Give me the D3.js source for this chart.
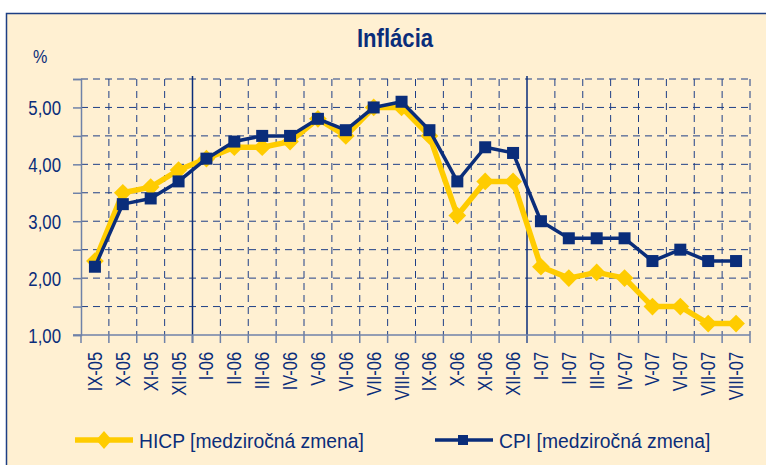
<!DOCTYPE html>
<html>
<head>
<meta charset="utf-8">
<script src="https://cdn.jsdelivr.net/npm/d3@7"></script>
<style>
  body { margin: 0; background: #fff; }
  svg text { font-family: "Liberation Sans", Arial, sans-serif; fill: #0a2d7a; }
</style>
</head>
<body>
<svg id="chart" width="766" height="465"></svg>
<script>
// months on the x axis
const months = ["IX-05", "X-05", "XI-05", "XII-05",
  "I-06", "II-06", "III-06", "IV-06", "V-06", "VI-06", "VII-06", "VIII-06",
  "IX-06", "X-06", "XI-06", "XII-06",
  "I-07", "II-07", "III-07", "IV-07", "V-07", "VI-07", "VII-07", "VIII-07"];

// HICP, year-on-year change (%)
const hicp = [2.3, 3.5, 3.6, 3.9, 4.1, 4.3, 4.3, 4.4, 4.8, 4.5, 5.0, 5.0,
  4.5, 3.1, 3.7, 3.7, 2.2, 2.0, 2.1, 2.0, 1.5, 1.5, 1.2, 1.2];

// CPI, year-on-year change (%)
const cpi = [2.2, 3.3, 3.4, 3.7, 4.1, 4.4, 4.5, 4.5, 4.8, 4.6, 5.0, 5.1,
  4.6, 3.7, 4.3, 4.2, 3.0, 2.7, 2.7, 2.7, 2.3, 2.5, 2.3, 2.3];

const yTicks = [1, 1.5, 2, 2.5, 3, 3.5, 4, 4.5, 5, 5.5];
const yLabels = [1, 2, 3, 4, 5];
const yearBreaks = ["I-06", "I-07"];   // solid lines before these months

const navy = "#0a2d7a";
const yellow = "#ffcc00";
const grid = "#1f3f86";
const axisGray = "#6f82a8";

const svg = d3.select("#chart");

// panel background + frame
svg.append("rect")
  .attr("x", 6.5).attr("y", 13.5)
  .attr("width", 790).attr("height", 480)
  .attr("fill", "#fff0d2")
  .attr("stroke", "#1d3f84").attr("stroke-width", 1.5);

const plotL = 81, plotR = 750, plotT = 79, plotB = 335;

const x = d3.scaleBand().domain(months).range([plotL, plotR]);
const y = d3.scaleLinear().domain([1, 5.5]).range([plotB, plotT]);
const cx = m => x(m) + x.bandwidth() / 2;

// horizontal dashed grid
svg.append("g").selectAll("line")
  .data(yTicks.slice(1))
  .join("line")
  .attr("x1", plotL).attr("x2", plotR)
  .attr("y1", d => y(d)).attr("y2", d => y(d))
  .attr("stroke", grid).attr("stroke-width", 1)
  .attr("stroke-dasharray", "7,5");

// vertical dashed grid on category boundaries
svg.append("g").selectAll("line")
  .data(months.slice(1).concat(["end"]))
  .join("line")
  .attr("x1", (d, i) => plotL + (i + 1) * x.step())
  .attr("x2", (d, i) => plotL + (i + 1) * x.step())
  .attr("y1", plotT).attr("y2", plotB)
  .attr("stroke", grid).attr("stroke-width", 1)
  .attr("stroke-dasharray", "7,5")
  .attr("opacity", d => yearBreaks.includes(d) ? 0 : 1);

// year separators
svg.append("g").selectAll("line")
  .data(yearBreaks)
  .join("line")
  .attr("x1", d => x(d)).attr("x2", d => x(d))
  .attr("y1", plotT - 3).attr("y2", plotB + 8)
  .attr("stroke", navy).attr("stroke-width", 1.5);

// y axis (labels drawn separately, condensed)
const yAxis = svg.append("g")
  .attr("transform", `translate(${plotL},0)`)
  .call(d3.axisLeft(y).tickValues(yTicks).tickSize(8).tickFormat(""));
yAxis.select(".domain").attr("stroke", axisGray).attr("stroke-width", 1.5);
yAxis.selectAll(".tick line").attr("stroke", axisGray).attr("stroke-width", 1.5);

svg.append("g").selectAll("text")
  .data(yLabels)
  .join("text")
  .attr("transform", d => `translate(61,${y(d) + 7.5}) scale(0.8,1)`)
  .attr("text-anchor", "end")
  .attr("font-size", 21)
  .text(d => d3.format(".2f")(d).replace(".", ","));

// x axis: baseline + ticks on boundaries
svg.append("line")
  .attr("x1", plotL - 8).attr("x2", plotR)
  .attr("y1", plotB).attr("y2", plotB)
  .attr("stroke", axisGray).attr("stroke-width", 1.5);
svg.append("g").selectAll("line")
  .data(d3.range(months.length + 1))
  .join("line")
  .attr("x1", i => plotL + i * x.step()).attr("x2", i => plotL + i * x.step())
  .attr("y1", plotB).attr("y2", plotB + 8)
  .attr("stroke", axisGray).attr("stroke-width", 1.5);

svg.append("g").selectAll("text")
  .data(months)
  .join("text")
  .attr("transform", d => `translate(${cx(d) + 7},352) rotate(-90) scale(0.82,1)`)
  .attr("text-anchor", "end")
  .attr("font-size", 20)
  .text(d => d);

// series
const line = d3.line()
  .x((d, i) => cx(months[i]))
  .y(d => y(d));

svg.append("path")
  .datum(hicp)
  .attr("d", line)
  .attr("fill", "none")
  .attr("stroke", yellow).attr("stroke-width", 5.5)
  .attr("stroke-linejoin", "round");

svg.append("g").selectAll("path")
  .data(hicp)
  .join("path")
  .attr("d", d3.symbol().type(d3.symbolDiamond2).size(200))
  .attr("transform", (d, i) => `translate(${cx(months[i])},${y(d)})`)
  .attr("fill", yellow);

svg.append("path")
  .datum(cpi)
  .attr("d", line)
  .attr("fill", "none")
  .attr("stroke", navy).attr("stroke-width", 3.5)
  .attr("stroke-linejoin", "round");

svg.append("g").selectAll("rect")
  .data(cpi)
  .join("rect")
  .attr("x", (d, i) => cx(months[i]) - 6)
  .attr("y", d => y(d) - 6)
  .attr("width", 12).attr("height", 12)
  .attr("fill", navy);

// title and unit
svg.append("text")
  .attr("transform", "translate(395,47) scale(0.85,1)")
  .attr("text-anchor", "middle")
  .attr("font-size", 26).attr("font-weight", "bold")
  .attr("fill", navy)
  .text("Inflácia");

svg.append("text")
  .attr("transform", "translate(33,63) scale(0.85,1)")
  .attr("font-size", 19)
  .text("%");

// legend
const legend = [
  { name: "HICP [medziročná zmena]", color: yellow, width: 5.5, x: 75 },
  { name: "CPI [medziročná zmena]", color: navy, width: 3.5, x: 435 }
];
const lg = svg.append("g").selectAll("g")
  .data(legend)
  .join("g")
  .attr("transform", d => `translate(${d.x},440)`);
lg.append("line")
  .attr("x1", 0).attr("x2", 58)
  .attr("stroke", d => d.color).attr("stroke-width", d => d.width);
lg.filter((d, i) => i === 0).append("path")
  .attr("d", d3.symbol().type(d3.symbolDiamond2).size(130))
  .attr("transform", "translate(29,0) scale(1.1,1.25)")
  .attr("fill", yellow);
lg.filter((d, i) => i === 1).append("rect")
  .attr("x", 23).attr("y", -5).attr("width", 10).attr("height", 10)
  .attr("fill", navy);
lg.append("text")
  .attr("transform", "translate(64,7.5) scale(0.92,1)")
  .attr("font-size", 21)
  .text(d => d.name);
</script>
</body>
</html>
